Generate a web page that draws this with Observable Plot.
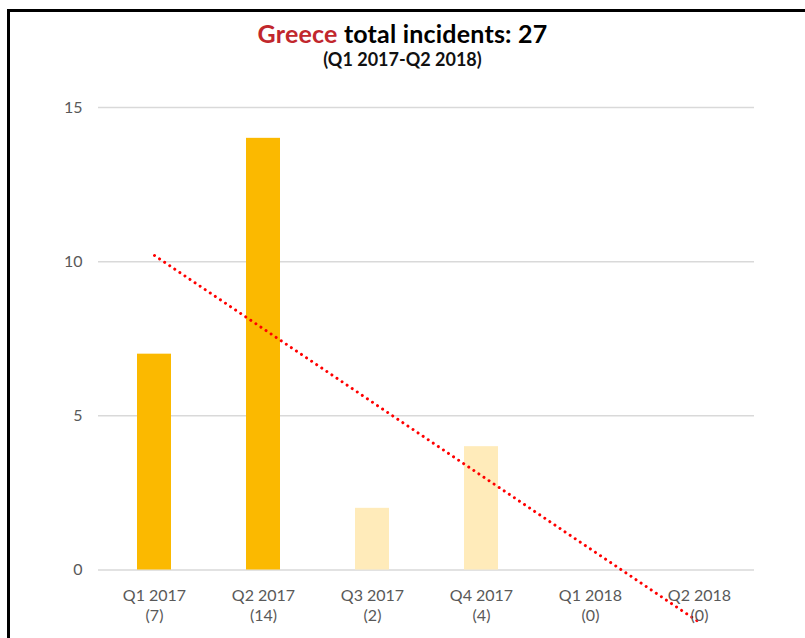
<!DOCTYPE html>
<html>
<head>
<meta charset="utf-8">
<script src="https://cdn.jsdelivr.net/npm/d3@7"></script>
<script src="https://cdn.jsdelivr.net/npm/@observablehq/plot@0.6"></script>
<style>
  html, body { margin: 0; padding: 0; background: #fff; }
  body { width: 805px; height: 638px; position: relative; overflow: hidden; font-family: Lato, "Open Sans", sans-serif; }
  #frame { position: absolute; left: 7px; top: 9px; width: 820px; height: 700px; border-left: 3px solid #000; border-top: 3px solid #000; box-sizing: border-box; }
  .t { position: absolute; left: 0; width: 805px; text-align: center; font-weight: 700; line-height: 1.2; color: #000; white-space: nowrap; }
  #title { top: 18px; font-size: 25px; letter-spacing: 0.2px; }
  #title .c { color: #C1272D; }
  #sub { top: 49px; font-size: 18px; color: #111; }
  #chart { position: absolute; left: 0; top: 80px; }
</style>
</head>
<body>
<div id="frame"></div>
<div class="t" id="title"><span class="c">Greece</span> total incidents: 27</div>
<div class="t" id="sub">(Q1 2017-Q2 2018)</div>
<div id="chart"></div>
<script>
const quarters = ["Q1 2017", "Q2 2017", "Q3 2017", "Q4 2017", "Q1 2018", "Q2 2018"];
const incidents = [7, 14, 2, 4, 0, 0];
const shade = ["dark", "dark", "light", "light", "light", "light"];
const yTicks = [0, 5, 10, 15];
const trendQuarters = ["Q1 2017", "Q2 2018"];
const trendValues = [10.2, -1.7];

const bars = quarters.map((q, i) => ({q, v: incidents[i], s: shade[i]}));
const trend = trendQuarters.map((q, i) => ({q, v: trendValues[i]}));
const labelOf = Object.fromEntries(quarters.map((q, i) => [q, `${q}\n(${incidents[i]})`]));

const chart = Plot.plot({
  width: 805,
  height: 558,
  marginLeft: 98,
  marginRight: 51,
  marginTop: 27,
  marginBottom: 68.5,
  style: {fontFamily: "Lato, 'Open Sans', sans-serif", background: "transparent", overflow: "visible"},
  x: {domain: quarters, paddingInner: 0.69, paddingOuter: 0.345},
  y: {domain: [0, 15]},
  color: {domain: ["dark", "light"], range: ["#FBB900", "#FFEBBA"]},
  marks: [
    Plot.ruleY(yTicks, {stroke: "#D9D9D9", strokeWidth: 1.5}),
    Plot.barY(bars, {x: "q", y: "v", fill: "s"}),
    Plot.line(trend, {x: "q", y: "v", stroke: "#FF0000", strokeWidth: 3, strokeLinecap: "round", strokeDasharray: "0.01,6.1"}),
    Plot.axisY({ticks: yTicks, tickSize: 0, tickPadding: 16, fontSize: 16, fill: "#595959", label: null}),
    Plot.axisX({tickSize: 0, tickPadding: 17, fontSize: 16, fill: "#595959", lineHeight: 1.25, label: null, tickFormat: d => labelOf[d]})
  ]
});
document.getElementById("chart").appendChild(chart);
</script>
</body>
</html>
